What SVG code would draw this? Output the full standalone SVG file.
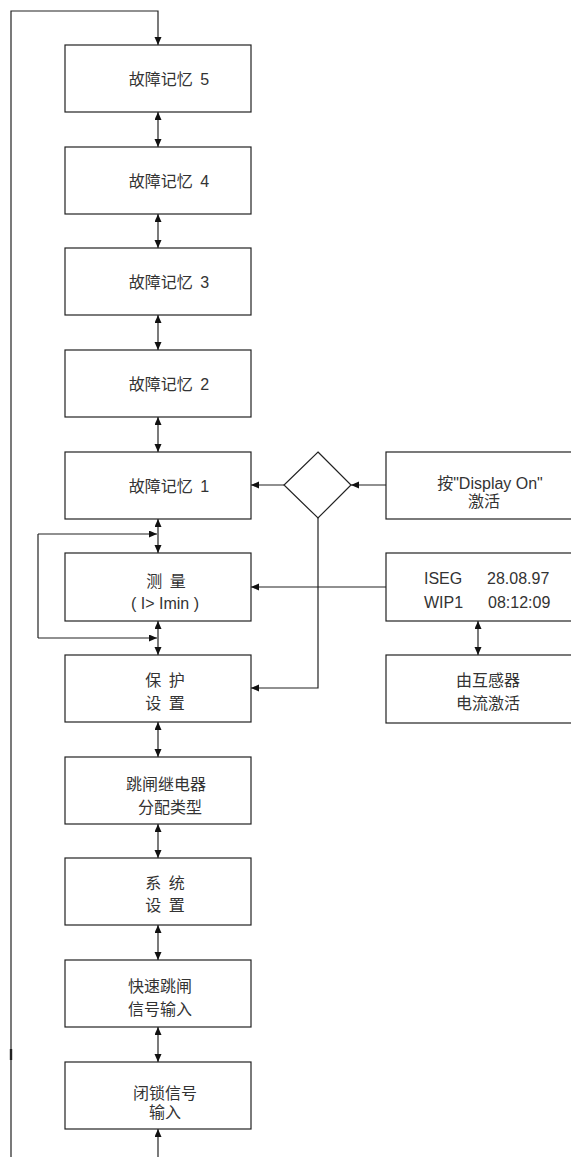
<svg xmlns="http://www.w3.org/2000/svg" width="571" height="1157" viewBox="0 0 571 1157">
<style>
.box{fill:#fff;stroke:#222;stroke-width:1.2}
.ln{fill:none;stroke:#222;stroke-width:1.2}
.t{font-family:"Liberation Sans","Noto Sans CJK SC",sans-serif;font-size:16px;fill:#333;text-anchor:middle}
.s{text-anchor:start}
.w{word-spacing:3px}
</style>
<defs>
<marker id="ah" markerUnits="userSpaceOnUse" markerWidth="9" markerHeight="8" refX="8" refY="3.5" orient="auto-start-reverse">
<path d="M0,0 L8,3.5 L0,7 z" fill="#111"/>
</marker>
</defs>
<g id="connectors">
<path class="ln" d="M11 1157 V11 H158 V45" marker-end="url(#ah)"/>
<line x1="11" y1="1049" x2="11" y2="1060" stroke="#222" stroke-width="2.4"/>
<line class="ln" x1="158" y1="112" x2="158" y2="147" marker-start="url(#ah)" marker-end="url(#ah)"/>
<line class="ln" x1="158" y1="214" x2="158" y2="248" marker-start="url(#ah)" marker-end="url(#ah)"/>
<line class="ln" x1="158" y1="315" x2="158" y2="350" marker-start="url(#ah)" marker-end="url(#ah)"/>
<line class="ln" x1="158" y1="417" x2="158" y2="452" marker-start="url(#ah)" marker-end="url(#ah)"/>
<line class="ln" x1="158" y1="519" x2="158" y2="553" marker-start="url(#ah)" marker-end="url(#ah)"/>
<line class="ln" x1="158" y1="621" x2="158" y2="655" marker-start="url(#ah)" marker-end="url(#ah)"/>
<line class="ln" x1="158" y1="722" x2="158" y2="757" marker-start="url(#ah)" marker-end="url(#ah)"/>
<line class="ln" x1="158" y1="824" x2="158" y2="858" marker-start="url(#ah)" marker-end="url(#ah)"/>
<line class="ln" x1="158" y1="925" x2="158" y2="960" marker-start="url(#ah)" marker-end="url(#ah)"/>
<line class="ln" x1="158" y1="1027" x2="158" y2="1062" marker-start="url(#ah)" marker-end="url(#ah)"/>
<line class="ln" x1="158" y1="1157" x2="158" y2="1129" marker-end="url(#ah)"/>
<path class="ln" d="M38 534 V638"/>
<line class="ln" x1="38" y1="534" x2="157" y2="534" marker-end="url(#ah)"/>
<line class="ln" x1="38" y1="638" x2="157" y2="638" marker-end="url(#ah)"/>
<line class="ln" x1="386" y1="485" x2="351" y2="485" marker-end="url(#ah)"/>
<line class="ln" x1="284" y1="485" x2="251" y2="485" marker-end="url(#ah)"/>
<path class="ln" d="M318 518 V688 H251" marker-end="url(#ah)"/>
<line class="ln" x1="386" y1="587" x2="251" y2="587" marker-end="url(#ah)"/>
<line class="ln" x1="478" y1="621" x2="478" y2="655" marker-start="url(#ah)" marker-end="url(#ah)"/>
</g>
<g id="fault5"><rect class="box" x="65" y="45" width="186" height="67"/><text class="t w" x="169" y="85">故障记忆 5</text></g>
<g id="fault4"><rect class="box" x="65" y="147" width="186" height="67"/><text class="t w" x="169" y="187">故障记忆 4</text></g>
<g id="fault3"><rect class="box" x="65" y="248" width="186" height="67"/><text class="t w" x="169" y="288">故障记忆 3</text></g>
<g id="fault2"><rect class="box" x="65" y="350" width="186" height="67"/><text class="t w" x="169" y="390">故障记忆 2</text></g>
<g id="fault1"><rect class="box" x="65" y="452" width="186" height="67"/><text class="t w" x="169" y="492">故障记忆 1</text></g>
<g id="measure"><rect class="box" x="65" y="553" width="186" height="68"/><text class="t w" x="166" y="587">测 量</text><text class="t" x="165" y="609">( I&gt; Imin )</text></g>
<g id="protection"><rect class="box" x="65" y="655" width="186" height="67"/><text class="t w" x="165" y="686">保 护</text><text class="t w" x="165" y="709">设 置</text></g>
<g id="relay"><rect class="box" x="65" y="757" width="186" height="67"/><text class="t" x="166" y="790">跳闸继电器</text><text class="t" x="170" y="813">分配类型</text></g>
<g id="system"><rect class="box" x="65" y="858" width="186" height="67"/><text class="t w" x="165" y="889">系 统</text><text class="t w" x="165" y="911">设 置</text></g>
<g id="fasttrip"><rect class="box" x="65" y="960" width="186" height="67"/><text class="t" x="160" y="992">快速跳闸</text><text class="t" x="160" y="1015">信号输入</text></g>
<g id="block"><rect class="box" x="65" y="1062" width="186" height="67"/><text class="t" x="165" y="1099">闭锁信号</text><text class="t" x="165" y="1118">输入</text></g>
<g id="decision"><polygon class="box" points="318,452 351,485 318,518 284,485"/></g>
<g id="displayon"><rect class="box" x="386" y="452" width="187" height="67"/><text class="t" x="490" y="489">按"Display On"</text><text class="t" x="484" y="507">激活</text></g>
<g id="lcd"><rect class="box" x="386" y="553" width="187" height="68"/><text class="t s" x="424" y="584">ISEG</text><text class="t s" x="487" y="584">28.08.97</text><text class="t s" x="424" y="608">WIP1</text><text class="t s" x="488" y="608">08:12:09</text></g>
<g id="ct"><rect class="box" x="386" y="655" width="187" height="68"/><text class="t" x="488" y="686">由互感器</text><text class="t" x="488" y="709">电流激活</text></g>
</svg>
